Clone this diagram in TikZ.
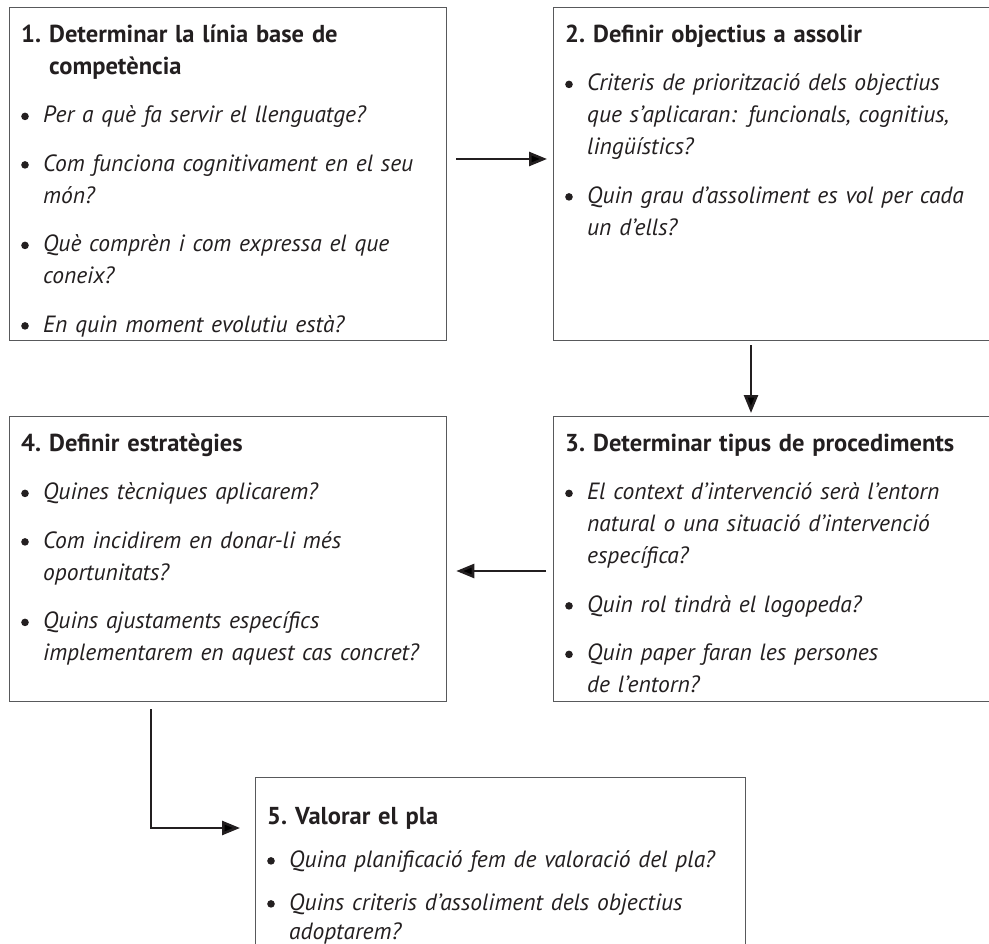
\documentclass[tikz,border=0pt]{standalone}
\usepackage{fontspec}
\setmainfont{PT Sans}
\usetikzlibrary{arrows.meta,calc}
\definecolor{ink}{HTML}{231F20}
\definecolor{framec}{HTML}{58595B}
\newlength\tind \setlength\tind{28pt}
\newlength\bind \setlength\bind{22pt}
\newcommand\bul{\tikz[baseline=0pt]{\fill[ink] (3.8pt,6.3pt) circle[radius=3.8pt];\path (0pt,0pt) (8pt,12pt);}}
\newcommand\ttl[2]{\hangindent=\tind\hangafter=1\noindent\rule{0pt}{24pt}{\fontsize{24.5}{32}\selectfont\bfseries\makebox[\tind][l]{#1}#2}\par}
\newcommand\itm[1]{\hangindent=\bind\hangafter=1\noindent\makebox[\bind][l]{\bul}{\itshape #1}\par}
\begin{document}
\begin{tikzpicture}[x=1pt,y=-1pt,
  frm/.style={draw=framec, line width=1.3pt, rectangle, inner sep=0pt, anchor=north west},
  txt/.style={anchor=north west, inner sep=0pt, text width=430pt, align=left, text=ink,
    font={\fontsize{23.5}{32}\selectfont\setlength\parskip{16.5pt}}},
  txtb/.style={txt, text width=475pt, font={\fontsize{23.5}{29}\selectfont\setlength\parskip{14pt}}},
  arr/.style={draw=ink, line width=2.6pt, -{Triangle[length=18pt,width=14pt]}}]
\useasboundingbox (0,0) rectangle (989,944);
% frames
\node[frm, minimum width=437pt, minimum height=333pt] (b1) at (9,7) {};
\node[frm, minimum width=437pt, minimum height=333pt] (b2) at (553,7) {};
\node[frm, minimum width=437pt, minimum height=285pt] (b3) at (553,416) {};
\node[frm, minimum width=437pt, minimum height=285pt] (b4) at (9,416) {};
\node[frm, minimum width=490pt, minimum height=200pt] (b5) at (255,777) {};
% texts
\node[txt] (t1) at (21,18) {%
\ttl{1.}{Determinar la línia base de\newline competència}
\itm{Per a què fa servir el llenguatge?}
\itm{Com funciona cognitivament en el seu\newline món?}
\itm{Què comprèn i com expressa el que\newline coneix?}
\itm{En quin moment evolutiu està?}};
\node[txt] (t2) at (565,18) {%
\ttl{2.}{Definir objectius a assolir}
\itm{Criteris de priorització dels objectius\newline que s’aplicaran: funcionals, cognitius,\newline lingüístics?}
\itm{Quin grau d’assoliment es vol per cada\newline un d’ells?}};
\node[txt] (t3) at (565,427) {%
\ttl{3.}{Determinar tipus de procediments}
\itm{El context d’intervenció serà l’entorn\newline natural o una situació d’intervenció\newline específica?}
\itm{Quin rol tindrà el logopeda?}
\itm{Quin paper faran les persones\newline de l’entorn?}};
\node[txt] (t4) at (21,427) {%
\ttl{4.}{Definir estratègies}
\itm{Quines tècniques aplicarem?}
\itm{Com incidirem en donar-li més\newline oportunitats?}
\itm{Quins ajustaments específics\newline implementarem en aquest cas concret?}};
\node[txtb] (t5) at (267,800) {%
\ttl{5.}{Valorar el pla}
\itm{Quina planificació fem de valoració del pla?}
\itm{Quins criteris d’assoliment dels objectius\newline adoptarem?}};
% connectors
\coordinate (a12) at (0,159);
\coordinate (a23) at (751,0);
\coordinate (a34) at (0,571);
\coordinate (a45) at (151,828);
\draw[arr] ([xshift=9pt]b1.east |- a12) -- ([xshift=-6pt]b2.west |- a12);
\draw[arr] ([yshift=-4pt]b2.south -| a23) -- ([yshift=3pt]b3.north -| a23);
\draw[arr] ([xshift=-7pt]b3.west |- a34) -- ([xshift=9pt]b4.east |- a34);
\draw[arr] ([yshift=-7pt]b4.south -| a45) |- ([xshift=-15pt]b5.west |- a45);
\end{tikzpicture}
\end{document}
